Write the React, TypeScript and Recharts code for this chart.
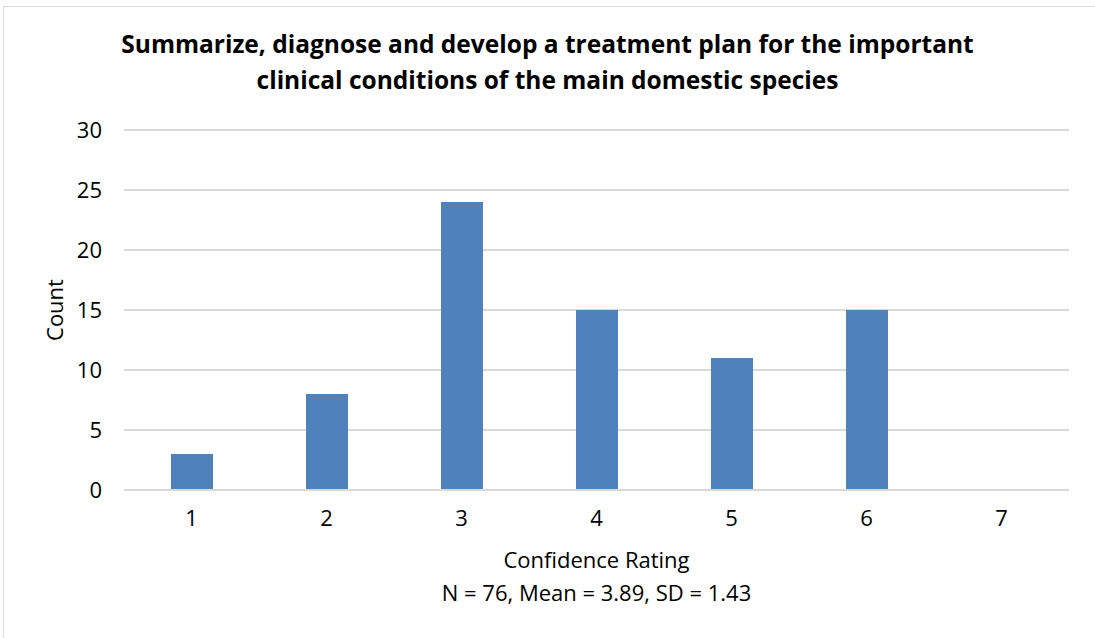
import React from "react";
import { BarChart, Bar, XAxis, YAxis, CartesianGrid } from "recharts";

const ratings = ["1", "2", "3", "4", "5", "6", "7"];
const counts = [3, 8, 24, 15, 11, 15, 0];
const yTicks = [0, 5, 10, 15, 20, 25, 30];
const titleLines = [
  "Summarize, diagnose and develop a treatment plan for the important",
  "clinical conditions of the main domestic species",
];
const xTitle = "Confidence Rating";
const xSubtitle = "N = 76, Mean = 3.89, SD = 1.43";
const yTitle = "Count";

const data = ratings.map((r, i) => ({ rating: r, count: counts[i] }));

const FONT = "'Open Sans', Lato, sans-serif";
const FS = 22;

const XLabel = (props: any) => {
  const vb = props.viewBox || {};
  const cx = vb.x + vb.width / 2;
  return (
    <g>
      <text x={cx} y={568} textAnchor="middle" fontFamily={FONT} fontSize={FS} fill="#000">
        {xTitle}
      </text>
      <text x={cx} y={601} textAnchor="middle" fontFamily={FONT} fontSize={FS} fill="#000">
        {xSubtitle}
      </text>
    </g>
  );
};

const YLabel = (props: any) => {
  const vb = props.viewBox || {};
  const cy = vb.y + vb.height / 2;
  return (
    <text
      x={54}
      y={cy}
      transform={`rotate(-90, 54, ${cy})`}
      textAnchor="middle"
      dominantBaseline="central"
      fontFamily={FONT}
      fontSize={FS}
      fill="#000"
    >
      {yTitle}
    </text>
  );
};

export default function App() {
  return (
    <div
      style={{
        position: "absolute",
        left: 0,
        top: 0,
        width: 1095,
        height: 638,
        background: "#fff",
        overflow: "hidden",
      }}
    >
      <div
        style={{
          position: "absolute",
          left: 3,
          top: 6,
          width: 1200,
          height: 700,
          borderLeft: "1px solid #d9d9d9",
          borderTop: "1px solid #d9d9d9",
        }}
      />
      <BarChart
        width={1095}
        height={638}
        data={data}
        margin={{ top: 130, right: 26, bottom: 118, left: 64 }}
        barSize={42}
        style={{ position: "absolute", left: 0, top: 0 }}
      >
        <CartesianGrid vertical={false} stroke="#d9d9d9" strokeWidth={2} />
        <XAxis
          dataKey="rating"
          type="category"
          height={30}
          axisLine={{ stroke: "#d9d9d9", strokeWidth: 2 }}
          tickLine={false}
          tickSize={0}
          tickMargin={20}
          tick={{ fontFamily: FONT, fontSize: FS, fill: "#000" }}
          label={<XLabel />}
        />
        <YAxis
          domain={[0, 30]}
          ticks={yTicks}
          width={60}
          axisLine={false}
          tickLine={false}
          tickSize={0}
          tickMargin={22}
          tick={{ fontFamily: FONT, fontSize: FS, fill: "#000" }}
          label={<YLabel />}
        />
        <Bar dataKey="count" fill="#4f81bd" isAnimationActive={false} />
      </BarChart>
      {titleLines.map((line, i) => (
        <div
          key={i}
          style={{
            position: "absolute",
            left: 0,
            width: 1095,
            top: 28 + i * 36,
            textAlign: "center",
            fontFamily: FONT,
            fontWeight: 700,
            fontSize: 24.5,
            lineHeight: "32px",
            color: "#000",
            whiteSpace: "nowrap",
          }}
        >
          {line}
        </div>
      ))}
    </div>
  );
}
